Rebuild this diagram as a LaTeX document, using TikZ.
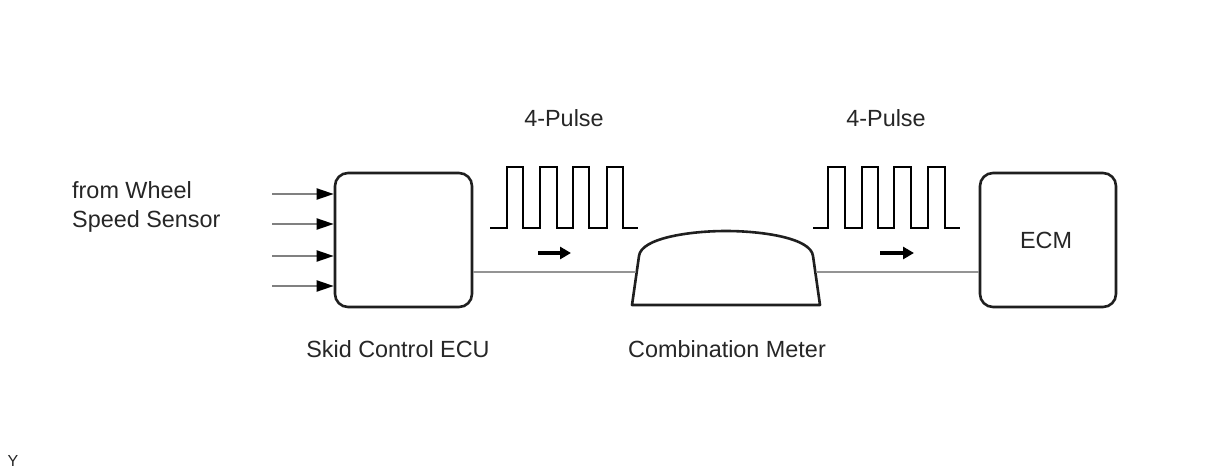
\documentclass[tikz,border=0pt]{standalone}
\usepackage{fontspec}
\setmainfont{Liberation Sans}
\usetikzlibrary{arrows.meta}
\begin{document}
\begin{tikzpicture}[x=1pt,y=-1pt,
  lbl/.style={font=\fontsize{23.4}{29}\selectfont, text=black!85, inner sep=0pt},
  ecubox/.style={draw=black!88, line width=2.6pt, rounded corners=13pt, minimum width=137pt, minimum height=134pt, inner sep=0pt},
  wire/.style={draw=black!42, line width=2.6pt},
  inwire/.style={draw=black!50, line width=2pt, -{Triangle[length=17pt,width=11pt,color=black]}},
  pulse/.style={draw=black, line width=2.8pt, line join=miter},
  flow/.style={draw=black, line width=3.8pt, -{Triangle[length=11pt,width=12pt]}},
]
\useasboundingbox (0,0) rectangle (1210,474);
\fill[white] (0,0) rectangle (1210,474);

% boxes
\node[ecubox] (skid) at (403.5,240) {};
\node[ecubox, minimum width=136pt] (ecm) at (1048,240) {};
\node[lbl] (ecmt) at (1046,240) {ECM};

% combination meter
\draw[black!88, line width=2.6pt, line join=round] (632,305) -- (639,256) .. controls (641,238) and (690,231) .. (726,231) .. controls (762,231) and (811,238) .. (813,256) -- (820,305) -- cycle;
\node (meter) at (726,270) {};
\coordinate (mL) at (636,272);
\coordinate (mR) at (816,272);

% wires
\draw[wire] (skid.east |- mL) -- (mL);
\draw[wire] (mR) -- (ecm.west |- mR);

% inputs
\foreach \yy/\n in {194/a,224/b,256/c,286/d}{
  \coordinate (in\n) at (272,\yy);
  \draw[inwire] (in\n) -- (skid.west |- in\n);
}

% pulses
\draw[pulse] (490,228) -- (507,228) -- (507,167) -- (523,167) -- (523,228) -- (540,228) -- (540,167) -- (557,167) -- (557,228) -- (573,228) -- (573,167) -- (589,167) -- (589,228) -- (607,228) -- (607,167) -- (623,167) -- (623,228) -- (638,228);
\draw[pulse] (813,228) -- (828,228) -- (828,167) -- (845,167) -- (845,228) -- (862,228) -- (862,167) -- (878,167) -- (878,228) -- (894,228) -- (894,167) -- (911,167) -- (911,228) -- (928,228) -- (928,167) -- (945,167) -- (945,228) -- (960,228);

% flow arrows
\coordinate (f1a) at (538,253); \coordinate (f1b) at (571,253);
\coordinate (f2a) at (880,253); \coordinate (f2b) at (914,253);
\draw[flow] (f1a) -- (f1b);
\draw[flow] (f2a) -- (f2b);

% labels
\node[lbl] (p1) at (564,118) {4-Pulse};
\node[lbl] (p2) at (886,118) {4-Pulse};
\node[lbl, anchor=west, align=left] (src) at (72,207) {from Wheel\\Speed Sensor};
\node[lbl] (skidt) at (398,349) {Skid Control ECU};
\node[lbl] (metert) at (727,349) {Combination Meter};
\node[lbl, font=\fontsize{16}{19}\selectfont] (y) at (13,461) {Y};
\end{tikzpicture}
\end{document}
